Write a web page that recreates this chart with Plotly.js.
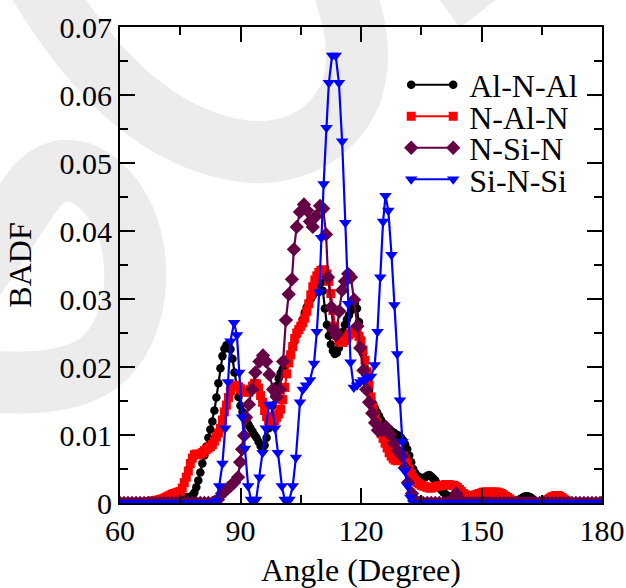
<!DOCTYPE html>
<html>
<head>
<meta charset="utf-8">
<script src="https://cdn.plot.ly/plotly-3.0.1.min.js"></script>
<style>
html,body{margin:0;padding:0;background:#fff;}
#chart{width:626px;height:588px;}
</style>
</head>
<body>
<div id="chart"></div>
<script>
// ---------------- DATA ----------------
// Angle grid (degrees) for the Al-centred series: 0.5 degree bins from 60 to 180
const angleStart = 60, angleStep = 0.5, angleEnd = 180;
const angle05 = [];
for (let a = angleStart; a <= angleEnd + 1e-9; a += angleStep) angle05.push(+a.toFixed(1));

// BADF values (in units of 1e-3), one per 0.5-degree bin
const alnalBADF = [
 0,0,0,0,0,0,0,0,0,0,
 0,0,0,0,0,0,0,0,0,0,
 0,0,0,0,0.2,0.3,0.5,0.6,0.8,0.9,
 1.0,1.0,0.9,0.8,0.8,0.9,1.1,1.5,2.3,3.3,
 4.5,5.8,7.0,8.3,9.6,10.8,12.0,13.6,15.5,17.6,
 19.8,21.6,22.7,23.2,23.3,22.6,21.2,19.2,17.2,15.6,
 14.3,13.4,12.6,12.0,11.5,11.0,10.5,10.0,9.6,9.0,
 8.4,8.0,8.5,9.6,11.0,12.6,14.3,15.9,17.2,18.3,
 19.1,19.7,20.2,20.7,21.3,22.0,22.8,23.8,24.7,25.3,
 26.0,27.0,28.0,28.8,29.4,30.0,30.5,31.0,31.6,32.1,
 32.4,31.2,28.6,26.2,24.6,23.3,22.4,21.9,22.1,22.8,
 24.0,25.2,26.2,27.0,27.6,28.3,29.1,29.4,28.6,26.6,
 24.1,22.0,19.8,17.9,16.5,15.4,14.6,13.9,13.3,12.8,
 12.2,11.7,11.3,11.0,10.8,10.6,10.4,10.2,10.0,9.9,
 9.6,9.2,8.6,7.9,7.0,6.0,5.0,4.4,4.0,3.8,
 3.7,3.6,3.8,4.0,4.1,3.9,3.6,3.3,2.8,2.3,
 1.9,1.6,1.3,1.1,0.9,0.7,0.5,0.3,0.2,0.1,
 0.1,0.1,0.1,0.1,0.1,0.1,0.2,0.5,0.9,1.2,
 1.5,1.6,1.5,1.2,0.8,0.5,0.3,0.2,0.2,0.2,
 0.2,0.2,0.2,0.2,0.2,0.2,0.2,0.2,0.3,0.5,
 0.7,0.9,1.0,1.0,0.9,0.7,0.4,0.2,0,0,
 0,0,0,0,0,0,0,0,0,0,
 0,0,0,0,0,0,0,0,0,0,
 0,0,0,0,0,0,0,0,0,0,
 0
];

const nalnBADF = [
 0,0,0,0,0,0,0,0,0,0,
 0,0,0,0.1,0.2,0.2,0.3,0.3,0.4,0.4,
 0.5,0.6,0.7,0.85,1.0,1.15,1.3,1.4,1.5,1.6,
 1.7,2.2,3.0,3.8,4.7,5.8,6.6,7.1,7.2,7.1,
 7.2,7.4,7.7,7.9,8.1,8.3,8.6,9.1,9.7,10.3,
 11.0,12.2,13.4,14.4,15.5,16.5,17.1,17.3,17.3,17.1,
 16.8,16.5,16.4,16.3,16.3,16.7,17.2,17.6,17.5,16.9,
 15.8,14.8,13.6,12.7,12.1,11.8,11.8,12.1,12.6,13.1,
 13.8,15.2,17.0,19.0,20.6,21.8,23.0,24.2,25.0,25.5,
 26.0,26.5,27.2,28.2,29.3,30.6,31.8,32.8,33.4,33.9,
 34.2,34.3,34.2,33.7,32.6,30.8,28.3,26.0,24.6,23.9,
 23.6,23.6,23.9,24.3,24.7,25.0,25.2,25.2,25.0,24.5,
 23.8,22.5,21.0,19.3,17.4,15.6,14.1,12.9,11.8,11.0,
 10.2,9.5,8.8,8.1,7.4,6.9,6.5,6.3,6.2,6.3,
 6.6,6.9,6.5,5.9,5.0,4.3,3.7,3.3,3.0,2.8,
 2.6,2.5,2.4,2.3,2.2,2.2,2.3,2.4,2.5,2.5,
 2.6,2.6,2.7,2.7,2.7,2.6,2.6,2.5,2.3,2.0,
 1.7,1.4,1.2,1.1,1.0,1.0,1.1,1.2,1.3,1.4,
 1.5,1.6,1.6,1.6,1.6,1.6,1.6,1.6,1.6,1.5,
 1.4,1.2,1.0,0.8,0.6,0.4,0.3,0.2,0.1,0.1,
 0.1,0.1,0.1,0.1,0.1,0.1,0.1,0.1,0.1,0.1,
 0.1,0.2,0.3,0.5,0.7,0.9,1.0,1.1,1.1,1.0,
 0.8,0.6,0.4,0.2,0.1,0,0,0,0,0,
 0,0,0,0,0,0,0,0,0,0,
 0
];

// N-Si-N (angle, BADF x1e-3)
const nsinAngle = [
 60,61,62,63,64,65,66,67,68,69,70,71,72,73,74,75,76,77,78,79,80,81,82,83,
 83.6,84.4,85.4,86.2,86.9,87.7,88.4,89.4,89.9,90.4,
 90.9,91.4,92.1,92.9,93.7,94.7,95.6,96.4,97.2,98.1,
 99.0,99.8,100.6,101.3,102.0,102.8,103.3,104.0,104.8,105.8,
 106.6,107.3,108.0,108.8,109.8,110.6,111.3,111.8,112.6,113.1,
 113.8,114.6,115.3,116.0,116.8,117.5,118.3,119.1,119.8,120.6,
 121.3,122.0,122.8,123.5,124.2,125.2,126.2,127.2,128.2,129.2,
 130.2,130.9,131.7,132.7,133.7,
 134.5,135.5,136.5,137.5,138.5,139.5,140.5,141.5,142.7,143.7,144.7,
 145.5,146.5,147.5,148.5,149.5,150.5,151.5,152.5,153.5,154.5,155.5,156.5,157.5,158.5,159.5,
 160.5,161.5,162.5,163.5,164.5,165.5,166.5,167.5,168.5,169.5,170.5,171.5,172.5,173.5,174.5,
 175.5,176.5,177.5,178.5,179.5,180
];
const nsinBADF = [
 0,0,0,0,0,0,0,0,0,0,0,0,0,0,0,0,0,0,0,0,0,0,0,0,
 0.2,0.5,1.4,1.8,2.2,2.6,3.0,3.8,6.0,7.9,
 9.9,12.6,14.5,16.7,19.2,20.8,21.7,20.8,18.9,16.7,
 15.6,16.7,20.8,26.9,30.7,32.9,37.3,40.6,42.8,43.9,
 43.0,41.4,40.6,42.2,43.7,43.3,39.5,33.2,28.8,25.5,
 24.7,28.2,31.3,32.6,33.7,33.2,29.9,26.0,22.8,19.5,
 16.7,14.8,13.2,11.8,10.7,10.7,11.2,10.1,8.8,7.7,
 6.9,5.2,3.0,1.4,0.3,
 0,0,0,0,0,0,0,0,0.5,1.4,0.5,
 0,0,0,0,0,0,0,0,0,0,0,0,0,0,0,
 0,0,0,0,0,0,0,0,0,0,0,0,0,0,0,
 0,0,0,0,0,0
];

// Si-N-Si (angle, BADF x1e-3)
const sinsiAngle = [
 60,61,62,63,64,65,66,67,68,69,70,71,72,73,74,75,76,77,78,79,80,81,82,83,
 84.0,84.7,85.5,86.2,86.9,87.5,88.4,89.1,89.7,90.4,
 91.1,91.9,92.6,93.3,93.9,94.7,95.5,96.3,97.1,97.8,
 98.6,99.3,100.3,101.0,101.6,102.2,103.0,103.8,104.8,105.5,
 106.3,107.3,108.3,109.0,109.6,110.1,110.7,111.4,112.0,112.8,
 113.7,114.5,115.3,116.1,116.8,117.4,118.2,119.0,119.8,120.6,
 121.5,122.5,123.4,124.1,124.8,125.5,126.1,126.8,127.6,128.3,
 129.0,129.7,130.3,130.9,131.6,132.3,
 133,134,135,136,137,138,139,140,141,142,143,144,145,146,147,148,149,150,
 151,152,153,154,155,156,157,158,159,160,161,162,163,164,165,166,167,168,169,170,
 171,172,173,174,175,176,177,178,179,180
];
const sinsiBADF = [
 0,0,0,0,0,0,0,0,0,0,0,0,0,0,0,0,0,0,0,0,0,0,0,0,
 0.3,2.5,5.8,11.0,17.8,23.8,26.5,24.7,19.2,12.6,
 8.0,2.5,0.5,0.3,0.5,3.8,7.4,11.0,14.5,14.5,
 11.0,7.4,2.5,0.5,0.3,0.5,2.5,6.7,14.8,16.7,
 17.3,18.1,20.5,25.2,31.0,39.0,46.9,55.2,61.8,65.8,
 65.8,61.8,53.2,41.2,29.3,20.7,17.0,17.3,17.8,18.1,
 18.4,18.6,20.3,25.2,33.2,41.4,45.2,43.0,36.5,29.1,
 21.9,15.1,9.0,4.7,2.5,0.8,
 0,0,0,0,0,0,0,0,0,0,0,0,0,0,0,0,0,0,
 0,0,0,0,0,0,0,0,0,0,0,0,0,0,0,0,0,0,0,0,
 0,0,0,0,0,0,0,0,0,0
];

const seriesNames = ['Al-N-Al', 'N-Al-N', 'N-Si-N', 'Si-N-Si'];
const yScale = 0.001;

// sanity checks
function check(x, y, name){ if (x.length !== y.length) throw new Error(name + ' length mismatch ' + x.length + ' vs ' + y.length); }
check(angle05, alnalBADF, 'Al-N-Al');
check(angle05, nalnBADF, 'N-Al-N');
check(nsinAngle, nsinBADF, 'N-Si-N');
check(sinsiAngle, sinsiBADF, 'Si-N-Si');

const sc = v => v.map(d => d * yScale);

// ---------------- STYLE ----------------
const FONT = 'Liberation Serif, Times New Roman, serif';
const traces = [
 {x: angle05, y: sc(alnalBADF), name: seriesNames[0], mode: 'lines+markers',
  line: {color: '#000000', width: 2.2}, marker: {symbol: 'circle', size: 8.5, color: '#000000'}},
 {x: angle05, y: sc(nalnBADF), name: seriesNames[1], mode: 'lines+markers',
  line: {color: '#ff0000', width: 2.2}, marker: {symbol: 'square', size: 9, color: '#ff0000'}},
 {x: nsinAngle, y: sc(nsinBADF), name: seriesNames[2], mode: 'lines+markers',
  line: {color: '#650046', width: 2.2}, marker: {symbol: 'diamond', size: 11, color: '#650046'}},
 {x: sinsiAngle, y: sc(sinsiBADF), name: seriesNames[3], mode: 'lines+markers',
  line: {color: '#0000ff', width: 2.2}, marker: {symbol: 'triangle-down', size: 11, color: '#0000ff'}}
];

// plot frame in pixels (for watermark placement)
const M = {l: 120, r: 24, t: 27, b: 85};
const PW = 626 - M.l - M.r, PH = 588 - M.t - M.b;
const P = (x, y) => ((x - M.l) / PW).toFixed(4) + ',' + ((588 - M.b - y) / PH).toFixed(4);
const wmColor = '#ececec';
const shapes = [
 {type: 'path', xref: 'paper', yref: 'paper', layer: 'below',
  path: 'M' + P(25,-40) + ' C' + P(70,40) + ' ' + P(130,120) + ' ' + P(215,145) +
        ' C' + P(280,165) + ' ' + P(330,140) + ' ' + P(350,95) +
        ' C' + P(365,55) + ' ' + P(355,20) + ' ' + P(335,-40),
  line: {color: wmColor, width: 62}, fillcolor: 'rgba(0,0,0,0)'},
 {type: 'path', xref: 'paper', yref: 'paper', layer: 'below',
  path: 'M' + P(-30,285) + ' L' + P(30,195) +
        ' C' + P(60,150) + ' ' + P(100,175) + ' ' + P(120,210) +
        ' C' + P(145,255) + ' ' + P(140,330) + ' ' + P(100,362) +
        ' C' + P(70,385) + ' ' + P(20,385) + ' ' + P(-30,380),
  line: {color: wmColor, width: 62}, fillcolor: 'rgba(0,0,0,0)'},
 {type: 'path', xref: 'paper', yref: 'paper', layer: 'below',
  path: 'M' + P(436,-5) + ' L' + P(502,-5) + ' L' + P(460,28) + ' Z',
  line: {width: 0}, fillcolor: wmColor}
];

const axisCommon = {
 showline: true, linecolor: '#000', linewidth: 2, mirror: 'allticks',
 ticks: 'inside', ticklen: 15, tickwidth: 2, tickcolor: '#000',
 showgrid: false, zeroline: false,
 tickfont: {family: FONT, size: 30, color: '#000'}
};

const layout = {
 width: 626, height: 588,
 margin: M,
 paper_bgcolor: '#ffffff', plot_bgcolor: 'rgba(0,0,0,0)',
 font: {family: FONT, color: '#000'},
 showlegend: true,
 legend: {x: 0.60, y: 0.936, xanchor: 'left', yanchor: 'top',
  bgcolor: 'rgba(0,0,0,0)', font: {family: FONT, size: 32, color: '#000'}},
 xaxis: Object.assign({}, axisCommon, {
  range: [60, 180], tickmode: 'linear', tick0: 60, dtick: 30,
  minor: {dtick: 15, ticklen: 8, tickwidth: 2, tickcolor: '#000', ticks: 'inside', showgrid: false},
  title: {text: 'Angle (Degree)', font: {family: FONT, size: 32, color: '#000'}, standoff: 15}
 }),
 yaxis: Object.assign({}, axisCommon, {
  range: [0, 0.07], tickmode: 'linear', tick0: 0, dtick: 0.01,
  minor: {dtick: 0.005, ticklen: 8, tickwidth: 2, tickcolor: '#000', ticks: 'inside', showgrid: false},
  title: {text: 'BADF', font: {family: FONT, size: 32, color: '#000'}, standoff: 18}
 }),
 shapes: shapes
};

Plotly.newPlot('chart', traces, layout, {displayModeBar: false, staticPlot: true}).then(function(){
 // no clipping of legend rows
 document.querySelectorAll('.legend .scrollbox').forEach(function(s){ s.removeAttribute('clip-path'); });
 document.querySelectorAll('.legend').forEach(function(s){ s.removeAttribute('clip-path'); });
 // tighten legend rows and draw the sample as a longer line with end markers
 const items = document.querySelectorAll('.legend .traces');
 let y0 = null;
 items.forEach(function(g, i){
  const t = g.getAttribute('transform') || '';
  const m = /translate\(\s*([-\d.e]+)[ ,]+([-\d.e]+)\s*\)/.exec(t);
  const x = m ? +m[1] : 0, y = m ? +m[2] : 0;
  if (y0 === null) y0 = y;
  g.setAttribute('transform', 'translate(' + x + ',' + (y0 + i * 31.5) + ')');
  const line = g.querySelector('.legendlines path');
  if (line) line.setAttribute('d', 'M2,0h42');
  const pt = g.querySelector('.legendpoints path.scatterpts');
  if (pt) {
   const tr = pt.getAttribute('transform') || '';
   const clone = pt.cloneNode(true);
   pt.setAttribute('transform', tr.replace(/translate\([^)]*\)/, 'translate(2,0)'));
   clone.setAttribute('transform', tr.replace(/translate\([^)]*\)/, 'translate(44,0)'));
   pt.parentNode.appendChild(clone);
  }
  const txt = g.querySelector('text.legendtext');
  if (txt) txt.setAttribute('x', 60);
 });
});
</script>
</body>
</html>
